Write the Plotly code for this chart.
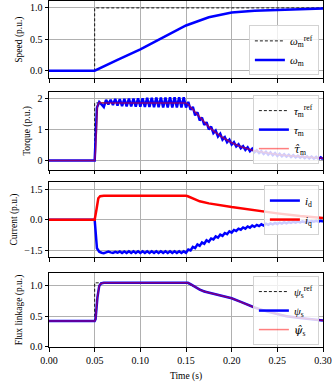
import numpy as np
import plotly.graph_objects as go
from plotly.subplots import make_subplots

# ---- data ----
# speed
speed_t = [0.0, 0.05, 0.075, 0.1, 0.125, 0.15, 0.175, 0.2, 0.225, 0.25, 0.275, 0.3]
speed = [0.0, 0.0, 0.17, 0.34, 0.53, 0.72, 0.85, 0.925, 0.955, 0.97, 0.98, 0.99]
speed_ref_t = [0.0, 0.05, 0.05, 0.3]
speed_ref = [0.0, 0.0, 1.0, 1.0]

# fine time grid (2.5 ms) used for the rippling signals, starting at the step
t_fine = [0.0] + list(np.round(np.arange(0.05, 0.30001, 0.0025), 4))

# measured torque (ripple)
torque = [0.0,
          0.00, 1.70, 1.88, 1.80, 1.72, 1.95, 1.80, 1.95, 1.78, 1.98,
          1.76, 1.97, 1.75, 1.98, 1.74, 1.99, 1.74, 1.99, 1.73, 2.00,
          1.73, 2.00, 1.72, 2.01, 1.72, 2.01, 1.71, 2.02, 1.71, 2.02,
          1.70, 2.02, 1.70, 2.03, 1.70, 2.03, 1.70, 2.03, 1.70, 2.03,
          1.70, 1.88, 1.63, 1.72, 1.45, 1.55, 1.29, 1.38, 1.14, 1.23,
          1.00, 1.09, 0.88, 0.96, 0.77, 0.86, 0.67, 0.75, 0.59, 0.67,
          0.51, 0.59, 0.45, 0.52, 0.39, 0.46, 0.34, 0.42, 0.30, 0.38,
          0.27, 0.33, 0.24, 0.30, 0.21, 0.28, 0.19, 0.26, 0.17, 0.24,
          0.15, 0.215, 0.135, 0.20, 0.125, 0.185, 0.11, 0.17, 0.10, 0.155,
          0.09, 0.145, 0.08, 0.135, 0.07, 0.125, 0.06, 0.115, 0.05, 0.105,
          0.04]
torque_ref_t = [0.0, 0.05, 0.05, 0.15, 0.155, 0.16, 0.175, 0.2, 0.225, 0.25, 0.275, 0.3]
torque_ref = [0.0, 0.0, 1.85, 1.85, 1.72, 1.54, 1.08, 0.57, 0.31, 0.19, 0.12, 0.07]
torque_est_t = [0.0, 0.05, 0.051, 0.052, 0.053, 0.055, 0.06, 0.1, 0.15, 0.1525, 0.155, 0.16, 0.165,
                0.17, 0.175, 0.18, 0.19, 0.2, 0.21, 0.225, 0.24, 0.25, 0.26, 0.275, 0.29, 0.3]
torque_est = [0.0, 0.0, 0.3, 1.2, 1.75, 1.86, 1.85, 1.85, 1.85, 1.80, 1.72, 1.54, 1.38,
              1.22, 1.08, 0.95, 0.74, 0.57, 0.44, 0.31, 0.23, 0.19, 0.16, 0.12, 0.09, 0.07]

# currents
i_d = [0.0,
       0.00, -1.40, -1.57, -1.62, -1.64, -1.60, -1.56, -1.60, -1.63, -1.58,
       -1.62, -1.56, -1.63, -1.56, -1.63, -1.55, -1.63, -1.55, -1.63, -1.55,
       -1.63, -1.55, -1.63, -1.55, -1.63, -1.55, -1.63, -1.55, -1.63, -1.55,
       -1.63, -1.55, -1.63, -1.55, -1.63, -1.55, -1.63, -1.55, -1.63, -1.55,
       -1.62, -1.46, -1.51, -1.33, -1.39, -1.21, -1.28, -1.11, -1.18, -1.01,
       -1.08, -0.92, -0.97, -0.82, -0.88, -0.73, -0.79, -0.65, -0.71, -0.57,
       -0.63, -0.50, -0.55, -0.44, -0.49, -0.38, -0.44, -0.33, -0.39, -0.29,
       -0.35, -0.255, -0.315, -0.225, -0.285, -0.195, -0.255, -0.18, -0.23, -0.16,
       -0.21, -0.14, -0.19, -0.12, -0.175, -0.115, -0.155, -0.10, -0.145, -0.09,
       -0.135, -0.085, -0.12, -0.075, -0.11, -0.065, -0.10, -0.058, -0.095, -0.052,
       -0.09]
iq_t = [0.0, 0.05, 0.052, 0.054, 0.056, 0.06, 0.08, 0.1, 0.12, 0.15, 0.152, 0.155,
        0.16, 0.165, 0.175, 0.2, 0.225, 0.25, 0.275, 0.3]
i_q = [0.0, 0.0, 0.5, 1.05, 1.15, 1.17, 1.17, 1.18, 1.17, 1.17, 1.15, 1.08,
       1.0, 0.90, 0.80, 0.62, 0.46, 0.31, 0.18, 0.08]

# flux linkage
flux_t = [0.0, 0.05, 0.051, 0.053, 0.055, 0.057, 0.06, 0.1, 0.15, 0.152, 0.155, 0.16, 0.165,
          0.17, 0.175, 0.18, 0.19, 0.2, 0.21, 0.225, 0.24, 0.25, 0.26, 0.275, 0.29, 0.3]
flux = [0.42, 0.42, 0.45, 0.80, 0.99, 1.03, 1.04, 1.04, 1.04, 1.04, 1.02, 0.97, 0.93,
        0.90, 0.88, 0.86, 0.83, 0.79, 0.73, 0.64, 0.57, 0.53, 0.50, 0.47, 0.44, 0.43]
flux_ref_t = [0.0, 0.05, 0.05, 0.15, 0.16, 0.175, 0.2, 0.225, 0.25, 0.275, 0.3]
flux_ref = [0.42, 0.42, 1.04, 1.04, 0.97, 0.88, 0.79, 0.64, 0.53, 0.47, 0.43]

FONT = "Liberation Serif"
BLUE = "#0000ff"
RED = "rgba(255,0,0,0.5)"

fig = make_subplots(rows=4, cols=1, shared_xaxes=True)

def ref_line(x, y, name, legend, row):
    fig.add_trace(go.Scatter(x=x, y=y, mode="lines", name=name, legend=legend,
                             line=dict(color="black", width=0.9, dash="3px,2px")),
                  row=row, col=1)

def sig_line(x, y, name, legend, row, color, width):
    fig.add_trace(go.Scatter(x=x, y=y, mode="lines", name=name, legend=legend,
                             line=dict(color=color, width=width)), row=row, col=1)

HAT = '<span style="font-family:DejaVu Serif">{}</span>'

ref_line(speed_ref_t, speed_ref, "<i>ω</i><sub>m</sub><sup>ref</sup>", "legend", 1)
sig_line(speed_t, speed, "<i>ω</i><sub>m</sub>", "legend", 1, BLUE, 2.5)

ref_line(torque_ref_t, torque_ref, "<i>τ</i><sub>m</sub><sup>ref</sup>", "legend2", 2)
sig_line(t_fine, torque, "<i>τ</i><sub>m</sub>", "legend2", 2, BLUE, 2.5)
sig_line(torque_est_t, torque_est, HAT.format("<i>τ̂</i>") + "<sub>m</sub>", "legend2", 2, RED, 1.5)

sig_line(t_fine, i_d, "<i>i</i><sub>d</sub>", "legend3", 3, BLUE, 2.5)
sig_line(iq_t, i_q, "<i>i</i><sub>q</sub>", "legend3", 3, "red", 2.5)

ref_line(flux_ref_t, flux_ref, "<i>ψ</i><sub>s</sub><sup>ref</sup>", "legend4", 4)
sig_line(flux_t, flux, "<i>ψ</i><sub>s</sub>", "legend4", 4, BLUE, 2.5)
sig_line(flux_t, flux, HAT.format("<i>ψ̂</i>") + "<sub>s</sub>", "legend4", 4, RED, 1.5)

# axes
axis_style = dict(showgrid=True, gridcolor="#b0b0b0", gridwidth=0.8, showline=True,
                  linecolor="black", linewidth=1, mirror=True, ticks="outside",
                  ticklen=3.5, tickcolor="black", zeroline=False,
                  tickfont=dict(family=FONT, size=10, color="black"))
fig.update_xaxes(range=[0, 0.3], dtick=0.05, tickformat=".2f", **axis_style)
fig.update_yaxes(**axis_style)
fig.update_xaxes(title=dict(text="Time (s)", font=dict(family=FONT, size=9.5), standoff=7),
                 row=4, col=1)

domains = [[0.777, 1.0], [0.512, 0.737], [0.260, 0.477], [0.0, 0.214]]
y_setup = [
    ("Speed (p.u.)", [-0.12, 1.11], [0, 0.5, 1.0], ".1f"),
    ("Torque (p.u.)", [-0.3, 2.2], [0, 1, 2], "d"),
    ("Current (p.u.)", [-1.83, 1.85], [-1.5, 0.0, 1.5], ".1f"),
    ("Flux linkage (p.u.)", [0, 1.2], [0, 0.5, 1.0], ".1f"),
]
for i, (title, rng, ticks, fmt) in enumerate(y_setup, 1):
    fig.update_yaxes(domain=domains[i - 1], range=rng, tickvals=ticks, tickformat=fmt,
                     title=dict(text=title, font=dict(family=FONT, size=9.5), standoff=5),
                     row=i, col=1)

legend_style = dict(bgcolor="rgba(255,255,255,0.8)", bordercolor="#d3d3d3", borderwidth=1,
                    font=dict(family=FONT, size=11, color="black"), itemwidth=30,
                    tracegroupgap=0, xanchor="right", x=0.985)
fig.update_layout(
    width=335, height=384,
    margin=dict(l=49, r=12, t=1, b=37),
    paper_bgcolor="white", plot_bgcolor="white",
    font=dict(family=FONT, size=10, color="black"),
    legend=dict(yanchor="bottom", y=0.785, **legend_style),
    legend2=dict(yanchor="top", y=0.728, **legend_style),
    legend3=dict(yanchor="top", y=0.468, **legend_style),
    legend4=dict(yanchor="top", y=0.205, **legend_style),
)

# drop the browser's default 8px body margin so the figure sits at the page corner
fig.write_html("out.html", config={"displayModeBar": False},
               post_script="document.body.style.margin = '0';")
